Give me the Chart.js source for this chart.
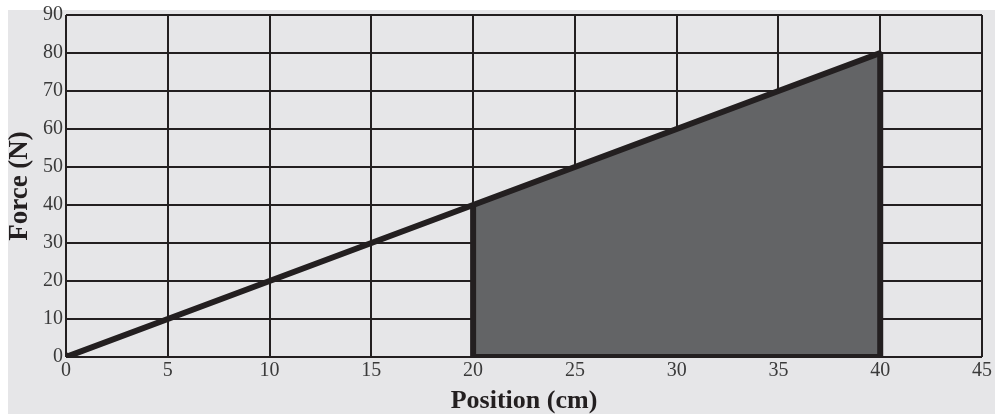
<!DOCTYPE html>
<html>
<head>
<meta charset="utf-8">
<script src="https://cdn.jsdelivr.net/npm/chart.js@4"></script>
<style>
  html, body { margin:0; padding:0; background:#fff; overflow:hidden; }
  #bg { position:absolute; left:8px; top:10px; width:987px; height:404px; background:#e6e6e8; }
  #forceChart { position:absolute; left:0; top:0; }
</style>
</head>
<body>
<div id="bg"></div>
<canvas id="forceChart" width="1010" height="414"></canvas>
<script>
  // force vs position, straight line through origin
  const positions = [0, 5, 10, 15, 20, 25, 30, 35, 40];
  const forces    = [0, 10, 20, 30, 40, 50, 60, 70, 80];
  // shaded work region between 20 cm and 40 cm
  const areaX = [20, 40];
  const areaF = [40, 80];
  const xTicks = [0, 5, 10, 15, 20, 25, 30, 35, 40, 45];
  const yTicks = [0, 10, 20, 30, 40, 50, 60, 70, 80, 90];

  const INK = '#231f20';
  const serif = "'Liberation Serif', 'DejaVu Serif', serif";

  const linePts = positions.map((x, i) => ({ x: x, y: forces[i] }));
  const areaPts = areaX.map((x, i) => ({ x: x, y: areaF[i] }));
  // outline: down the left edge, along the bottom, up the right edge
  const edgePts = [
    { x: areaX[0], y: areaF[0] }, { x: areaX[0], y: 0 },
    { x: areaX[1], y: 0 }, { x: areaX[1], y: areaF[1] }
  ];

  new Chart(document.getElementById('forceChart'), {
    type: 'scatter',
    data: {
      datasets: [
        { data: areaPts, showLine: true, fill: 'origin', backgroundColor: '#636466',
          borderWidth: 0, pointRadius: 0, order: 3 },
        { data: edgePts, showLine: true, borderColor: INK, borderWidth: 6,
          pointRadius: 0, fill: false, order: 2, borderJoinStyle: 'miter' },
        { data: linePts, showLine: true, borderColor: INK, borderWidth: 6,
          pointRadius: linePts.map((p, i) => i === 0 ? 4.5 : 2), pointBackgroundColor: INK,
          pointBorderWidth: 0, fill: false, order: 1 }
      ]
    },
    options: {
      responsive: false,
      animation: false,
      devicePixelRatio: 1,
      layout: { padding: { left: 0, right: 28, top: 15, bottom: 0 } },
      plugins: { legend: { display: false }, tooltip: { enabled: false } },
      scales: {
        x: {
          type: 'linear', min: 0, max: 45,
          afterBuildTicks: s => { s.ticks = xTicks.map(v => ({ value: v })); },
          afterFit: s => { s.height = 57; },
          grid: { color: INK, lineWidth: 2, drawTicks: false },
          border: { display: false },
          ticks: { color: '#3a3a3a', padding: 2, font: { family: serif, size: 20 } },
          title: { display: true, text: 'Position (cm)', color: INK, padding: { top: 2, bottom: 0 },
                   font: { family: serif, size: 26, weight: 'bold', lineHeight: 1 } }
        },
        y: {
          type: 'linear', min: 0, max: 90,
          afterBuildTicks: s => { s.ticks = yTicks.map(v => ({ value: v })); },
          afterFit: s => { s.width = 66; },
          grid: { color: INK, lineWidth: 2, drawTicks: false },
          border: { display: false },
          ticks: { color: '#3a3a3a', padding: 3, font: { family: serif, size: 20 } },
          title: { display: true, text: 'Force (N)', color: INK, padding: { bottom: 0 },
                   font: { family: serif, size: 27, weight: 'bold' } }
        }
      }
    }
  });
</script>
</body>
</html>
